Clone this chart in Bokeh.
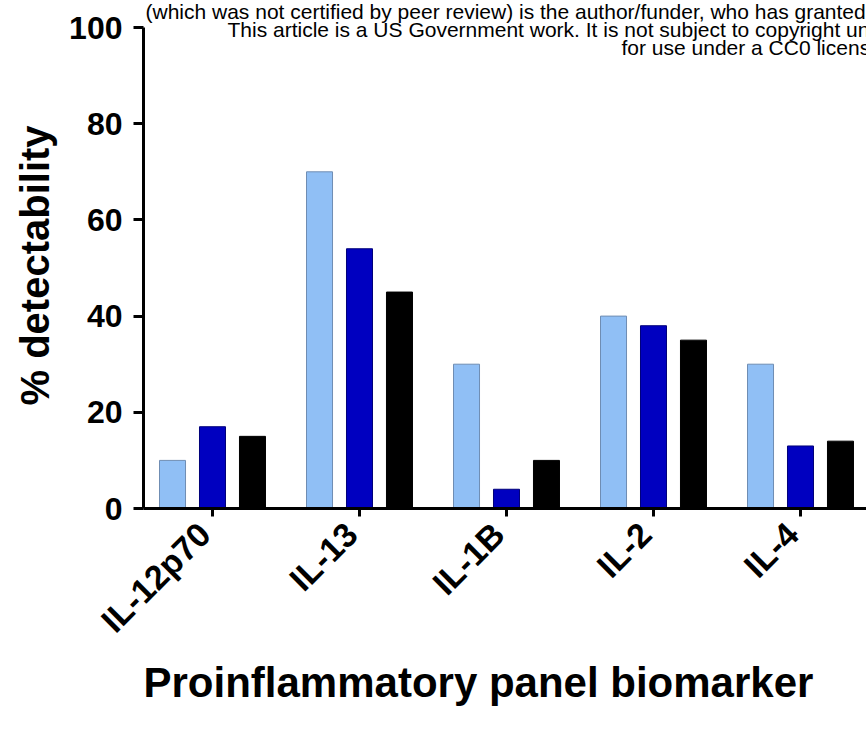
import math
from bokeh.plotting import figure
from bokeh.models import (ColumnDataSource, FixedTicker, Label, Range1d,
                          LinearAxis, CustomJSTickFormatter, Title)
from bokeh.transform import dodge
from bokeh.embed import file_html
from bokeh.resources import INLINE

# ---- data ----
biomarkers = ["IL-12p70", "IL-13", "IL-1B", "IL-2", "IL-4"]
series_light = [10, 70, 30, 40, 30]
series_dark = [17, 54, 4, 38, 13]
series_black = [15, 45, 10, 35, 14]
y_ticks = [0, 20, 40, 60, 80, 100]
x_title = "Proinflammatory panel biomarker"
y_title = "% detectability"
header_lines = [
    "(which was not certified by peer review) is the author/funder, who has granted medRxiv a license to display the preprint in perpetuity.",
    "This article is a US Government work. It is not subject to copyright under 17 USC 105 and is also made available",
    "for use under a CC0 license.",
]

FONT = "Liberation Sans"

# ---- layout (pixels) ----
W, H = 866, 732
frame_left, frame_bottom = 143, 508      # y-axis line / x-axis line
y_top_px = 27                            # where 100 sits
cat_px = 147                             # spacing between categories
cat0_px = 212                            # first category centre
px_per_unit = (frame_bottom - y_top_px) / 100.0

x_start = (frame_left - cat0_px) / cat_px
x_end = (W - cat0_px) / cat_px
y_end = 100 + y_top_px / px_per_unit     # room above 100 for header text

src = ColumnDataSource(dict(
    x=list(range(len(biomarkers))),
    light=series_light, dark=series_dark, black=series_black,
))

p = figure(width=W, height=H,
           x_range=Range1d(x_start, x_end), y_range=Range1d(0, y_end),
           output_backend="svg", toolbar_location=None,
           min_border_left=frame_left, min_border_right=0,
           min_border_top=0, min_border_bottom=H - frame_bottom)

p.outline_line_color = None
p.xgrid.visible = False
p.ygrid.visible = False
p.background_fill_color = "white"
p.border_fill_color = "white"

bw = 0.177
off = 0.272
p.vbar(x=dodge("x", -off), top="light", width=bw, source=src,
       fill_color="#90bff5", line_color="#6f8db3", line_width=1)
p.vbar(x=dodge("x", 0), top="dark", width=bw, source=src,
       fill_color="#0000c0", line_color="#00007a", line_width=1)
p.vbar(x=dodge("x", off), top="black", width=bw, source=src,
       fill_color="#000000", line_color="#000000", line_width=1)

def style(ax):
    ax.axis_line_width = 3
    ax.axis_line_color = "black"
    ax.major_tick_line_width = 3
    ax.major_tick_line_color = "black"
    ax.minor_tick_line_color = None
    ax.major_tick_in = 0
    ax.major_label_text_font = FONT
    ax.major_label_text_font_style = "bold"
    ax.major_label_text_color = "black"

# x axis: line + tick marks only
xa = p.xaxis[0]
style(xa)
xa.ticker = FixedTicker(ticks=list(range(len(biomarkers))))
xa.formatter = CustomJSTickFormatter(code="return ''")
xa.major_label_text_font_size = "0px"
xa.major_label_standoff = 0
xa.major_tick_out = 8

# second below axis: rotated category labels (slightly left of ticks)
lab_shift = -8 / cat_px
xl = LinearAxis(
    ticker=FixedTicker(ticks=[i + lab_shift for i in range(len(biomarkers))]),
    formatter=CustomJSTickFormatter(args=dict(names=biomarkers, shift=lab_shift),
                                    code="return names[Math.round(tick - shift)]"))
style(xl)
xl.axis_line_color = None
xl.major_tick_line_color = None
xl.major_tick_out = 0
xl.major_label_orientation = math.pi / 4
xl.major_label_text_font_size = "34px"
xl.major_label_standoff = 12
p.add_layout(xl, "below")

# x title, left-aligned under the y-axis like the source
p.add_layout(Title(text=x_title, align="left", offset=0,
                   vertical_align="middle", standoff=4,
                   text_font=FONT, text_font_style="bold",
                   text_font_size="42px", text_color="black"), "below")

ya = p.yaxis[0]
style(ya)
ya.ticker = FixedTicker(ticks=y_ticks)
ya.bounds = (0, 100)
ya.major_label_text_font_size = "32px"
ya.major_tick_out = 10
ya.major_label_standoff = 11

# y title as a side title, starting at the pixel where the source's starts
y_title_start_px = 405
p.add_layout(Title(text=y_title, align="left", offset=frame_bottom - y_title_start_px,
                   vertical_align="middle", standoff=18,
                   text_font=FONT, text_font_style="bold",
                   text_font_size="40px", text_color="black"), "left")

# header text (cut off at right like the source), baselines in pixels
header_px_x = [145, 227, 621]
header_px_y = [11, 29, 47]
for t, hx, hy in zip(header_lines, header_px_x, header_px_y):
    p.add_layout(Label(x=(hx - cat0_px) / cat_px,
                       y=(frame_bottom - hy) / px_per_unit,
                       text=t, text_font=FONT,
                       text_font_size="21px", text_color="black",
                       text_baseline="alphabetic", text_align="left"))

open("out.html", "w").write(file_html(p, INLINE))
